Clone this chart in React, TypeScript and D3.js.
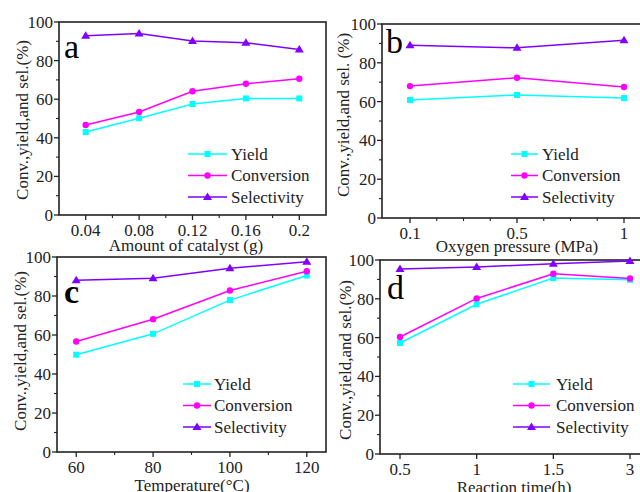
import React from 'react';
import * as d3 from 'd3';

// panel a: amount of catalyst (g)
const catalystAmounts = [0.04, 0.08, 0.12, 0.16, 0.2];
const yieldA = [43.0, 50.1, 57.5, 60.4, 60.4];
const convA = [46.6, 53.4, 64.1, 68.0, 70.6];
const selA = [92.9, 94.1, 90.2, 89.3, 85.8];

// panel b: oxygen pressure (MPa)
const pressures = ['0.1', '0.5', '1'];
const yieldB = [60.8, 63.4, 61.8];
const convB = [68.0, 72.3, 67.5];
const selB = [89.0, 87.7, 91.6];

// panel c: temperature
const temperatures = [60, 80, 100, 120];
const yieldC = [49.9, 60.6, 77.9, 90.5];
const convC = [56.7, 68.1, 82.8, 92.7];
const selC = [88.1, 89.1, 94.2, 97.6];

// panel d: reaction time (h)
const times = ['0.5', '1', '1.5', '3'];
const yieldD = [57.2, 77.2, 90.7, 89.8];
const convD = [60.3, 80.2, 92.9, 90.5];
const selD = [95.3, 96.4, 98.1, 99.5];

const yTicks = [0, 20, 40, 60, 80, 100];
const yMinor = [10, 30, 50, 70, 90];
const seriesNames = ['Yield', 'Conversion', 'Selectivity'];
const colors = ['#00ffff', '#ff00ff', '#8000ff'];

const FONT = '"Liberation Serif", "Times New Roman", serif';
const INK = '#222';

type Box = { left: number; right: number; top: number; bottom: number };

function Marker({ kind, x, y, color }: { kind: number; x: number; y: number; color: string }) {
  if (kind === 0) return <rect x={x - 3} y={y - 3} width={6} height={6} fill={color} />;
  if (kind === 1) return <circle cx={x} cy={y} r={3.2} fill={color} />;
  return <path d={`M${x},${y - 4.5}L${x + 4.5},${y + 3}L${x - 4.5},${y + 3}Z`} fill={color} />;
}

interface PanelProps {
  box: Box;
  x: (v: any) => number;
  xValues: any[];
  xTicks: any[];
  xMinor: number[];
  series: number[][];
  xTitle: string;
  xTitleAt: [number, number];
  yTitle: string;
  yTitleAt: [number, number];
  letter: string;
  letterAt: [number, number];
  letterBold?: boolean;
  legend: { x0: number; x1: number; tx: number; y0: number };
}

function Panel(p: PanelProps) {
  const { box } = p;
  const y = d3.scaleLinear().domain([0, 100]).range([box.bottom, box.top]);
  const line = d3.line<[number, number]>().x((d) => d[0]).y((d) => d[1]);
  return (
    <g style={{ fontFamily: FONT }} fill={INK}>
      <rect x={box.left} y={box.top} width={box.right - box.left} height={box.bottom - box.top}
        fill="none" stroke={INK} strokeWidth={1.6} />
      {/* y axis */}
      {yTicks.map((t) => (
        <g key={'y' + t}>
          <line x1={box.left - 5} x2={box.left} y1={y(t)} y2={y(t)} stroke={INK} strokeWidth={1.3} />
          <text x={box.left - 6} y={y(t)} dy="0.35em" textAnchor="end" fontSize={17}>{t}</text>
        </g>
      ))}
      {yMinor.map((t) => (
        <line key={'ym' + t} x1={box.left - 3} x2={box.left} y1={y(t)} y2={y(t)} stroke={INK} strokeWidth={1.1} />
      ))}
      {/* x axis */}
      {p.xTicks.map((t) => (
        <g key={'x' + t}>
          <line x1={p.x(t)} x2={p.x(t)} y1={box.bottom} y2={box.bottom + 5} stroke={INK} strokeWidth={1.3} />
          <text x={p.x(t)} y={box.bottom + 21} textAnchor="middle" fontSize={17}>{String(t)}</text>
        </g>
      ))}
      {p.xMinor.map((px, i) => (
        <line key={'xm' + i} x1={px} x2={px} y1={box.bottom} y2={box.bottom + 3} stroke={INK} strokeWidth={1.1} />
      ))}
      <text x={p.xTitleAt[0]} y={p.xTitleAt[1]} textAnchor="middle" fontSize={17}>{p.xTitle}</text>
      <text transform={`translate(${p.yTitleAt[0]},${p.yTitleAt[1]}) rotate(-90)`} dy="0.35em"
        textAnchor="middle" fontSize={17}>{p.yTitle}</text>
      <text x={p.letterAt[0]} y={p.letterAt[1]} fontSize={34} fontWeight={p.letterBold ? 'bold' : 'normal'}
        fill="#000">{p.letter}</text>
      {/* series */}
      {p.series.map((vals, si) => {
        const pts = vals.map((v, i) => [p.x(p.xValues[i]), y(v)] as [number, number]);
        return (
          <g key={'s' + si}>
            <path d={line(pts) || ''} fill="none" stroke={colors[si]} strokeWidth={1.5} />
            {pts.map((pt, i) => <Marker key={i} kind={si} x={pt[0]} y={pt[1]} color={colors[si]} />)}
          </g>
        );
      })}
      {/* legend */}
      {seriesNames.map((name, si) => {
        const ly = p.legend.y0 + si * 21.5;
        return (
          <g key={'l' + si}>
            <line x1={p.legend.x0} x2={p.legend.x1} y1={ly} y2={ly} stroke={colors[si]} strokeWidth={1.5} />
            <Marker kind={si} x={(p.legend.x0 + p.legend.x1) / 2} y={ly} color={colors[si]} />
            <text x={p.legend.tx} y={ly} dy="0.35em" fontSize={17}>{name}</text>
          </g>
        );
      })}
    </g>
  );
}

export default function App() {
  const xa = d3.scaleLinear().domain([0.02, 0.22]).range([59, 326]);
  const xb = d3.scalePoint<string>().domain(pressures).range([410, 624]);
  const xc = d3.scaleLinear().domain([55, 125]).range([57, 326]);
  const xd = d3.scalePoint<string>().domain(times).range([400, 630]);

  const stepB = xb.step();
  const minorB = d3.range(1, 8).filter((k) => k % 4 !== 0).map((k) => 410 + (stepB / 4) * k);

  return (
    <svg width={640} height={492} style={{ position: 'absolute', left: 0, top: 0, background: '#fff' }}>
      <rect width={640} height={492} fill="#fff" />
      <Panel
        box={{ left: 59, right: 326, top: 22, bottom: 215 }}
        x={xa} xValues={catalystAmounts} xTicks={catalystAmounts}
        xMinor={[0.06, 0.1, 0.14, 0.18].map(xa)}
        series={[yieldA, convA, selA]}
        xTitle="Amount of catalyst (g)" xTitleAt={[186, 251]}
        yTitle="Conv.,yield,and sel.(%)" yTitleAt={[22, 120]}
        letter="a" letterAt={[64, 58]}
        legend={{ x0: 188, x1: 227, tx: 231, y0: 154 }}
      />
      <Panel
        box={{ left: 382, right: 652, top: 24, bottom: 218 }}
        x={xb} xValues={pressures} xTicks={pressures}
        xMinor={minorB}
        series={[yieldB, convB, selB]}
        xTitle="Oxygen pressure (MPa)" xTitleAt={[517, 252]}
        yTitle="Conv.,yield,and sel. (%)" yTitleAt={[343, 115]}
        letter="b" letterAt={[386, 53]}
        legend={{ x0: 511, x1: 538, tx: 542, y0: 154 }}
      />
      <Panel
        box={{ left: 57, right: 326, top: 257, bottom: 452 }}
        x={xc} xValues={temperatures} xTicks={temperatures}
        xMinor={[70, 90, 110].map(xc)}
        series={[yieldC, convC, selC]}
        xTitle="Temperature(°C)" xTitleAt={[192, 491]}
        yTitle="Conv.,yield,and sel.(%)" yTitleAt={[20, 351]}
        letter="c" letterAt={[64, 303]} letterBold
        legend={{ x0: 183, x1: 211, tx: 214, y0: 384 }}
      />
      <Panel
        box={{ left: 380, right: 652, top: 260, bottom: 454 }}
        x={xd} xValues={times} xTicks={times}
        xMinor={[]}
        series={[yieldD, convD, selD]}
        xTitle="Reaction time(h)" xTitleAt={[514, 493]}
        yTitle="Conv.,yield,and sel.(%)" yTitleAt={[345, 360]}
        letter="d" letterAt={[387, 299]}
        legend={{ x0: 513, x1: 550, tx: 556, y0: 384 }}
      />
    </svg>
  );
}
